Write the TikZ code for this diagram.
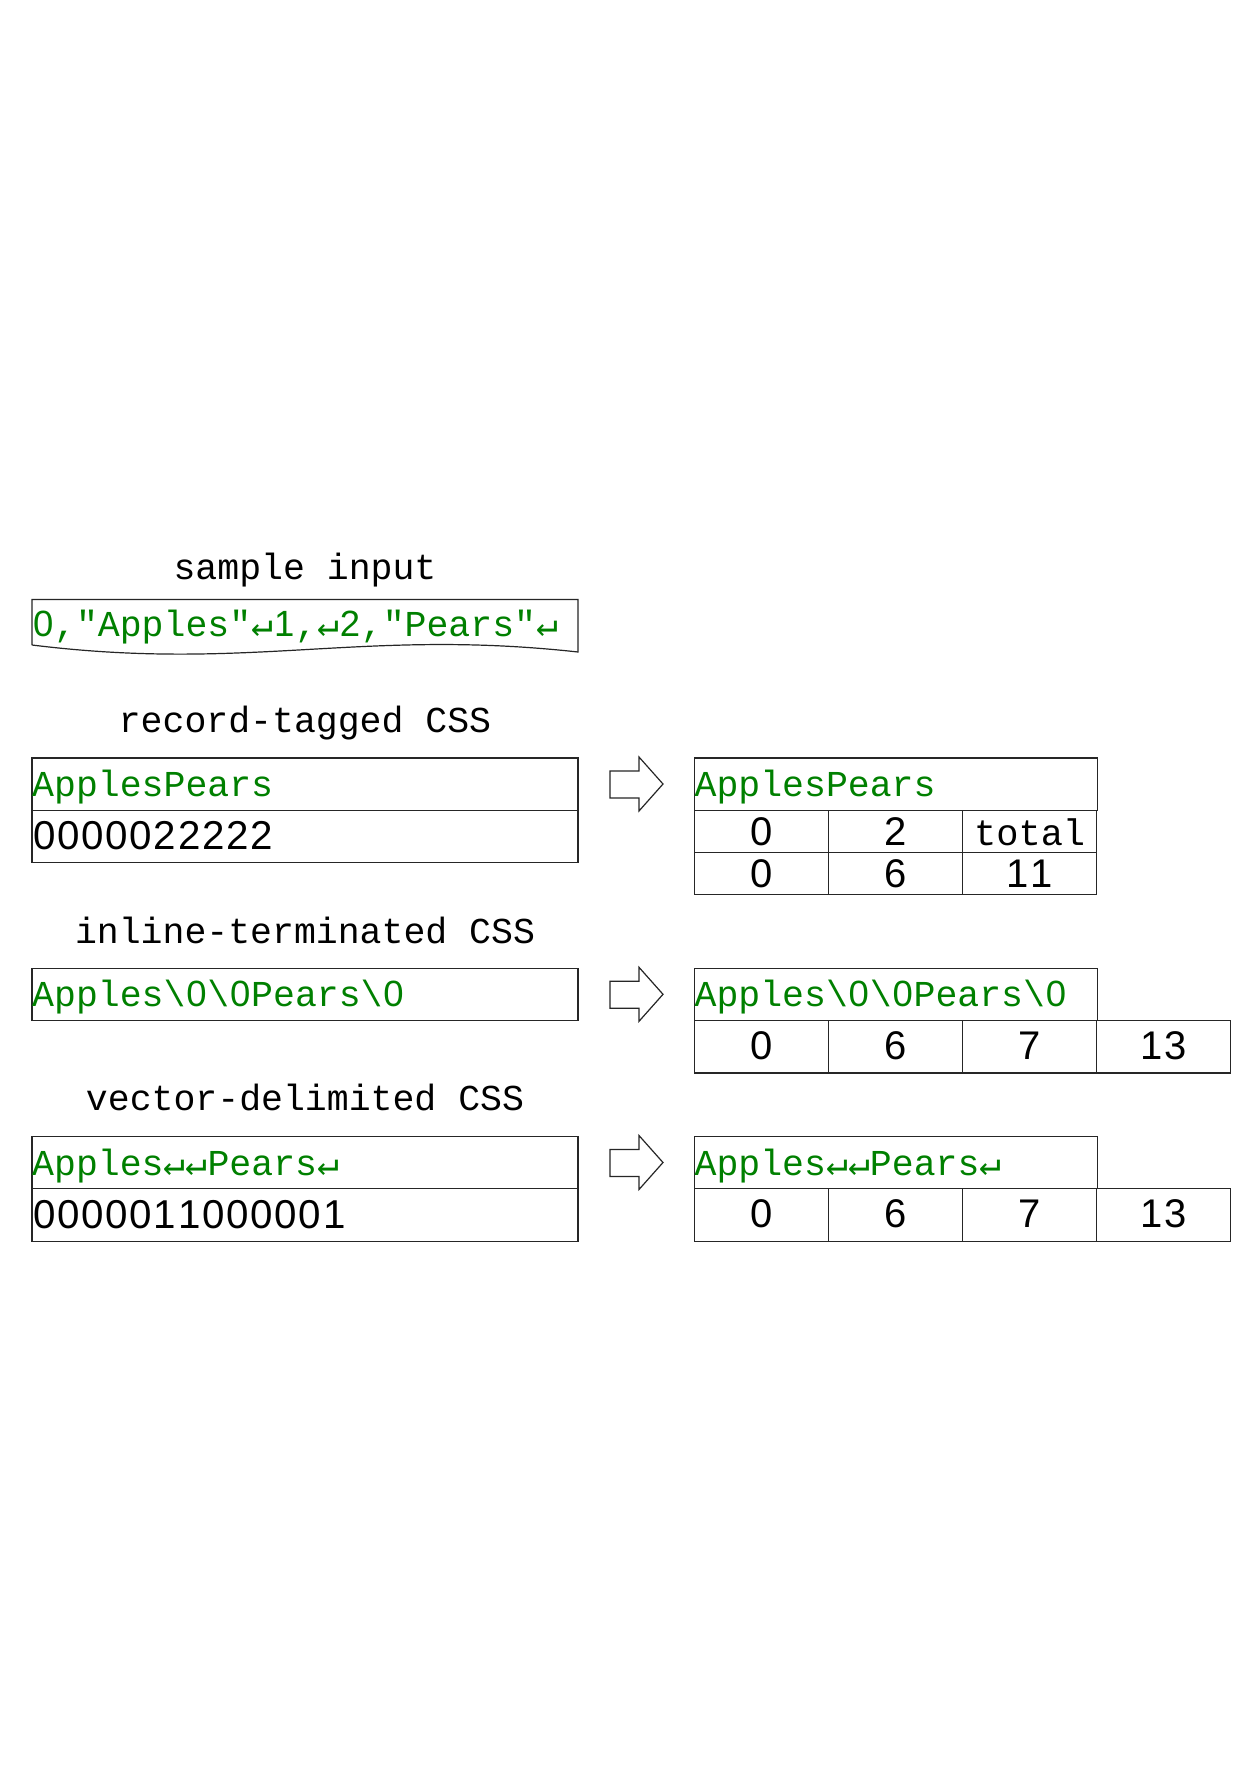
\documentclass[tikz,border=0pt]{standalone}
\usepackage{fontspec}
\setmainfont{Liberation Mono}[Ligatures=TeXOff]
\newfontfamily\arrfont{DejaVu Sans Mono}
\newfontfamily\digfont{Liberation Sans}
\newcommand{\retsym}{{\arrfont\symbol{"21B5}}}
\newcommand{\qq}{\symbol{34}}
\newcommand{\bsl}{\symbol{92}}
\newcommand{\dg}[1]{\makebox[0.6em]{\digfont #1}}
\makeatletter
\newcommand{\digs}[1]{\@tfor\my@dg:=#1\do{\makebox[0.6em]{\digfont\my@dg}}}
\makeatother
\definecolor{txtgreen}{RGB}{0,128,0}
\tikzset{
  boxline/.style={draw=black!85, line width=1.2pt},
  cellbox/.style={boxline, anchor=north west, inner sep=0pt, outer sep=0pt},
  gtext/.style={anchor=base west, inner sep=0pt, text=txtgreen, font=\fontsize{36.5pt}{40pt}\selectfont},
  dtext/.style={anchor=base west, inner sep=0pt, text=black, font=\fontsize{40.3pt}{44pt}\selectfont},
  ctext/.style={anchor=base, inner sep=0pt, text=black, font=\fontsize{40pt}{44pt}\selectfont},
  wtext/.style={anchor=base, inner sep=0pt, text=black, font=\fontsize{37pt}{40pt}\selectfont},
  title/.style={anchor=base, inner sep=0pt, text=black, font=\fontsize{36.5pt}{40pt}\selectfont},
  blockarrow/.style={boxline, fill=white, line join=miter}
}
\newcommand{\barrow}[1]{%
  \draw[blockarrow] (610,#1+13) -- (639,#1+13) -- (639,#1-1) -- (663,#1+26)
     -- (639,#1+53) -- (639,#1+40) -- (610,#1+40) -- cycle;}
\begin{document}
\begin{tikzpicture}[x=1pt,y=-1pt]
\useasboundingbox[fill=white] (0,0) rectangle (1257,1782);

% ---------- sample input ----------
\node[title] (t1) at (305,579) {sample input};
\draw[boxline] (32,645) -- (32,599.5) -- (578,599.5) -- (578,652)
   .. controls (360,628) and (250,672) .. (32,645);
\node[gtext] (s1) at (32,636) {\dg{0},\qq Apples\qq\retsym\dg{1},\retsym\dg{2},\qq Pears\qq\retsym};

% ---------- record-tagged CSS ----------
\node[title] (t2) at (305,732) {record-tagged CSS};
\node[cellbox, minimum width=546pt, minimum height=52.3pt] (rtA) at (32,758) {};
\node[cellbox, minimum width=546pt, minimum height=52.3pt] (rtB) at (32,810.3) {};
\node[gtext] (rtAt) at (32,796) {ApplesPears};
\node[dtext] (rtBt) at (32,849) {\digs{0000022222}};
\barrow{758}
\node[cellbox, minimum width=402.8pt, minimum height=52.3pt] (rrA) at (694.4,758) {};
\foreach \i in {0,1,2} {
  \node[cellbox, minimum width=134.1pt, minimum height=42.1pt] (rr2\i) at (694.4+134.1*\i,810.3) {};
  \node[cellbox, minimum width=134.1pt, minimum height=42pt] (rr3\i) at (694.4+134.1*\i,852.4) {};
}
\node[gtext] (rrAt) at (694.4,796) {ApplesPears};
\node[ctext] (rr20t) at (rr20.center |- 0,845) {\digs{0}};
\node[ctext] (rr21t) at (rr21.center |- 0,845) {\digs{2}};
\node[wtext] (rr22t) at (rr22.center |- 0,845) {total};
\node[ctext] (rr30t) at (rr30.center |- 0,887) {\digs{0}};
\node[ctext] (rr31t) at (rr31.center |- 0,887) {\digs{6}};
\node[ctext] (rr32t) at (rr32.center |- 0,887) {\digs{11}};

% ---------- inline-terminated CSS ----------
\node[title] (t3) at (305,943) {inline-terminated CSS};
\node[cellbox, minimum width=546pt, minimum height=52.3pt] (itA) at (32,968.3) {};
\node[gtext] (itAt) at (32,1006) {Apples\bsl\dg{0}\bsl\dg{0}Pears\bsl\dg{0}};
\barrow{968.3}
\node[cellbox, minimum width=402.8pt, minimum height=52.3pt] (irA) at (694.4,968.3) {};
\foreach \i in {0,1,2,3} {
  \node[cellbox, minimum width=134.1pt, minimum height=52.3pt] (irB\i) at (694.4+134.1*\i,1020.6) {};
}
\node[gtext] (irAt) at (694.4,1006) {Apples\bsl\dg{0}\bsl\dg{0}Pears\bsl\dg{0}};
\node[ctext] (irB0t) at (irB0.center |- 0,1059) {\digs{0}};
\node[ctext] (irB1t) at (irB1.center |- 0,1059) {\digs{6}};
\node[ctext] (irB2t) at (irB2.center |- 0,1059) {\digs{7}};
\node[ctext] (irB3t) at (irB3.center |- 0,1059) {\digs{13}};

% ---------- vector-delimited CSS ----------
\node[title] (t4) at (305,1110) {vector-delimited CSS};
\node[cellbox, minimum width=546pt, minimum height=52.3pt] (vdA) at (32,1136.5) {};
\node[cellbox, minimum width=546pt, minimum height=52.3pt] (vdB) at (32,1188.8) {};
\node[gtext] (vdAt) at (32,1175) {Apples\retsym\retsym Pears\retsym};
\node[dtext] (vdBt) at (32,1228) {\digs{0000011000001}};
\barrow{1136.5}
\node[cellbox, minimum width=402.8pt, minimum height=52.3pt] (vrA) at (694.4,1136.5) {};
\foreach \i in {0,1,2,3} {
  \node[cellbox, minimum width=134.1pt, minimum height=52.3pt] (vrB\i) at (694.4+134.1*\i,1188.8) {};
}
\node[gtext] (vrAt) at (694.4,1175) {Apples\retsym\retsym Pears\retsym};
\node[ctext] (vrB0t) at (vrB0.center |- 0,1227) {\digs{0}};
\node[ctext] (vrB1t) at (vrB1.center |- 0,1227) {\digs{6}};
\node[ctext] (vrB2t) at (vrB2.center |- 0,1227) {\digs{7}};
\node[ctext] (vrB3t) at (vrB3.center |- 0,1227) {\digs{13}};
\end{tikzpicture}
\end{document}
